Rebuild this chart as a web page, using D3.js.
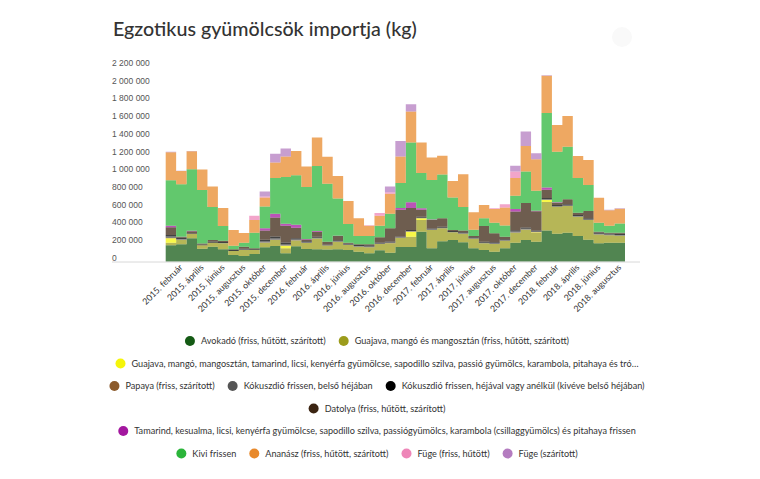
<!DOCTYPE html>
<html><head><meta charset="utf-8">
<script src="https://cdn.jsdelivr.net/npm/d3@7"></script>
<style>body{margin:0;background:#fff}svg{display:block}</style>
</head><body>
<svg id="chart" width="760" height="479"></svg>
<script>
// ---------- DATA (thousand kg per month) ----------
const years = [2015, 2016, 2017, 2018];
const monthNames = ["január","február","március","április","május","június","július","augusztus","szeptember","október","november","december"];
const months = [];
years.forEach(y => monthNames.forEach(m => months.push(y + ". " + m)));
months.length = 44; // 2015. január – 2018. augusztus

const seriesNames = [
  "Avokadó (friss, hűtött, szárított)",
  "Guajava, mangó és mangosztán (friss, hűtött, szárított)",
  "Guajava, mangó, mangosztán, tamarind, licsi, kenyérfa gyümölcse, sapodillo szilva, passió gyümölcs, karambola, pitahaya és tró…",
  "Papaya (friss, szárított)",
  "Kókuszdió frissen, belső héjában",
  "Kókuszdió frissen, héjával vagy anélkül (kivéve belső héjában)",
  "Datolya (friss, hűtött, szárított)",
  "Tamarind, kesualma, licsi, kenyérfa gyümölcse, sapodillo szilva, passiógyümölcs, karambola (csillaggyümölcs) és pitahaya frissen",
  "Kivi frissen",
  "Ananász (friss, hűtött, szárított)",
  "Füge (friss, hűtött)",
  "Füge (szárított)"
];
const seriesColors = ["#145a14","#9c9c1c","#f5f50a","#8b5a2b","#555555","#000000","#3b2412","#a3179f","#2bb53a","#e8892b","#ee86b8","#b47cc0"];

const avokado   = [185,197,264,147,170,140,76,64,87,163, 177,95,174,144,141,138,140,132,113,95, 129,102,165,165,339,151,232,245,220,151, 132,113,151,215,245,226,353,316,328,290, 249,208,215,215];
const guajava   = [29,49,49,38,45,68,45,68,45,52, 68,56,66,68,121,45,86,56,56,68, 71,106,103,118,132,207,146,87,96,107, 76,87,86,113,116,102,322,305,302,218, 223,99,84,79];
const tropusi   = [50,0,0,0,0,0,0,0,0,0, 0,29,0,0,0,0,0,0,0,0, 0,0,0,56,19,0,0,0,0,0, 0,0,0,0,0,5,23,0,0,0, 0,0,0,0];
const papaya    = [5,3,0,0,0,0,0,0,0,2, 3,2,2,0,0,0,0,0,0,0, 0,2,3,3,2,0,0,0,0,0, 0,0,0,2,3,2,2,0,0,0, 0,0,0,0];
const kokuszBelso = [15,8,0,0,0,4,0,5,0,10, 15,12,8,8,8,4,5,6,7,10, 6,8,5,5,5,8,6,4,6,6, 6,8,6,10,8,6,5,6,6,8, 6,8,7,7];
const kokuszHej = [19,15,5,10,12,10,10,10,10,20, 22,22,15,12,12,8,12,10,12,14, 10,10,10,12,10,10,12,10,12,12, 12,12,12,14,14,12,14,13,13,13, 13,14,14,14];
const datolya   = [87,8,26,10,18,15,9,22,9,105, 215,189,119,20,56,31,47,10,8,10, 59,151,302,247,79,95,95,12,18,13, 177,101,27,214,276,217,94,26,57,24, 82,10,8,12];
const tamarind  = [15,3,5,2,0,0,0,0,0,27, 42,23,34,5,8,0,3,0,0,0, 0,0,19,66,19,5,0,0,0,0, 0,0,0,27,0,6,26,5,0,0, 0,0,0,0];
const kivi      = [516,591,697,602,373,166,41,45,176,244, 403,528,559,588,735,655,421,211,94,94, 130,162,283,676,396,447,495,367,266,71, 87,120,127,150,357,226,841,571,594,394, 294,102,79,106];
const ananasz   = [316,150,203,232,232,203,177,110,144,102, 176,233,275,232,322,305,254,260,200,116, 113,226,300,350,346,254,211,186,371,198, 150,155,203,200,287,355,421,302,347,246, 283,283,173,164];
const fugeFriss = [0,0,0,0,0,0,0,0,49,11, 0,0,0,0,0,0,0,0,0,5, 31,17,0,0,0,0,0,0,0,0, 0,8,37,75,0,0,0,0,0,0, 0,0,0,0];
const fugeSzaritott = [5,3,3,2,0,0,0,0,0,56, 98,90,0,0,0,0,0,0,0,0, 0,66,174,81,0,0,0,0,0,0, 0,0,0,64,165,68,5,0,0,0, 0,0,6,6];

const seriesValues = [avokado,guajava,tropusi,papaya,kokuszBelso,kokuszHej,datolya,tamarind,kivi,ananasz,fugeFriss,fugeSzaritott];

const yTickValues = [0,200,400,600,800,1000,1200,1400,1600,1800,2000,2200];
const yTickLabels = ["0","200 000","400 000","600 000","800 000","1 000 000","1 200 000","1 400 000","1 600 000","1 800 000","2 000 000","2 200 000"];

const legendRows = [[0,1],[2],[3,4,5],[6],[7],[8,9,10,11]];

// ---------- DRAW ----------
const svg = d3.select("#chart");
const FONT = "Lato, 'Noto Sans', sans-serif";

// title
const title = svg.append("text")
  .attr("x", 113).attr("y", 36)
  .attr("font-family", FONT).attr("font-weight", 500)
  .attr("font-size", 20).attr("fill", "#333")
  .text("Egzotikus gyümölcsök importja (kg)");
const tw = title.node().getComputedTextLength();
title.attr("font-size", 20 * 304 / tw);

// faint icon top-right
svg.append("circle").attr("cx", 622).attr("cy", 37).attr("r", 10).attr("fill", "#f9f9f9");

const x = d3.scaleBand().domain(months).range([165.7, 625]).padding(0);
const y = d3.scaleLinear().domain([0, 2200]).range([261.7, 67]);

const rows = months.map((m, i) => {
  const o = { month: m };
  seriesValues.forEach((arr, k) => o["s" + k] = arr[i]);
  return o;
});
const keys = seriesValues.map((_, k) => "s" + k);
const stacked = d3.stack().keys(keys)(rows);

const area = d3.area().x(d => d.x).y0(d => d.y0).y1(d => d.y1);
stacked.forEach((layer, k) => {
  const pts = [];
  layer.forEach((d, i) => {
    const x0 = x(months[i]), x1 = x0 + x.bandwidth();
    pts.push({ x: x0, y0: y(d[0]), y1: y(d[1]) });
    pts.push({ x: x1, y0: y(d[0]), y1: y(d[1]) });
  });
  svg.append("path").attr("d", area(pts))
    .attr("fill", seriesColors[k]).attr("fill-opacity", 0.74);
});

// baseline
svg.append("line").attr("x1", 112).attr("x2", 640)
  .attr("y1", 262).attr("y2", 262).attr("stroke", "#d8d8d8").attr("stroke-width", 1);

// y tick labels
svg.append("g").selectAll("text").data(yTickValues).join("text")
  .attr("x", 112).attr("y", d => y(d) - 1)
  .attr("font-family", "'Liberation Sans', Arial, sans-serif")
  .attr("font-size", 8.5).attr("fill", "#555")
  .text((d, i) => yTickLabels[i]);

// x tick labels (every second month starting with február)
const xLabelMonths = months.filter((m, i) => i % 2 === 1);
const xg = svg.append("g");
const xl = xg.selectAll("text").data(xLabelMonths).join("text")
  .attr("transform", d => `translate(${x(d) + x.bandwidth() / 2 + 2},${268}) rotate(-45)`)
  .attr("text-anchor", "end")
  .attr("font-family", FONT).attr("font-size", 9).attr("fill", "#333")
  .text(d => d);
const refW = xl.filter(d => d === "2015. augusztus").node().getComputedTextLength();
xl.attr("font-size", 9 * 63 / refW);

// legend
const lg = svg.append("g");
const probe = lg.append("text").attr("font-family", FONT).attr("font-size", 10).text(seriesNames[0]);
const lfs = 10 * 125 / probe.node().getComputedTextLength();
probe.remove();
const centerX = 377;
legendRows.forEach((row, r) => {
  const cy = 341 + r * 22.5;
  const g = lg.append("g");
  let cx = 0;
  let end = 0;
  row.forEach((k, j) => {
    g.append("circle").attr("cx", cx).attr("cy", cy).attr("r", 5).attr("fill", seriesColors[k]);
    const t = g.append("text").attr("x", cx + 11).attr("y", cy + 3.2)
      .attr("font-family", FONT).attr("font-size", lfs).attr("fill", "#333")
      .text(seriesNames[k]);
    end = cx + 11 + t.node().getComputedTextLength();
    cx = end + 18;
  });
  const width = end + 5;
  g.attr("transform", `translate(${centerX - width / 2 + 5},0)`);
});
</script>
</body></html>
